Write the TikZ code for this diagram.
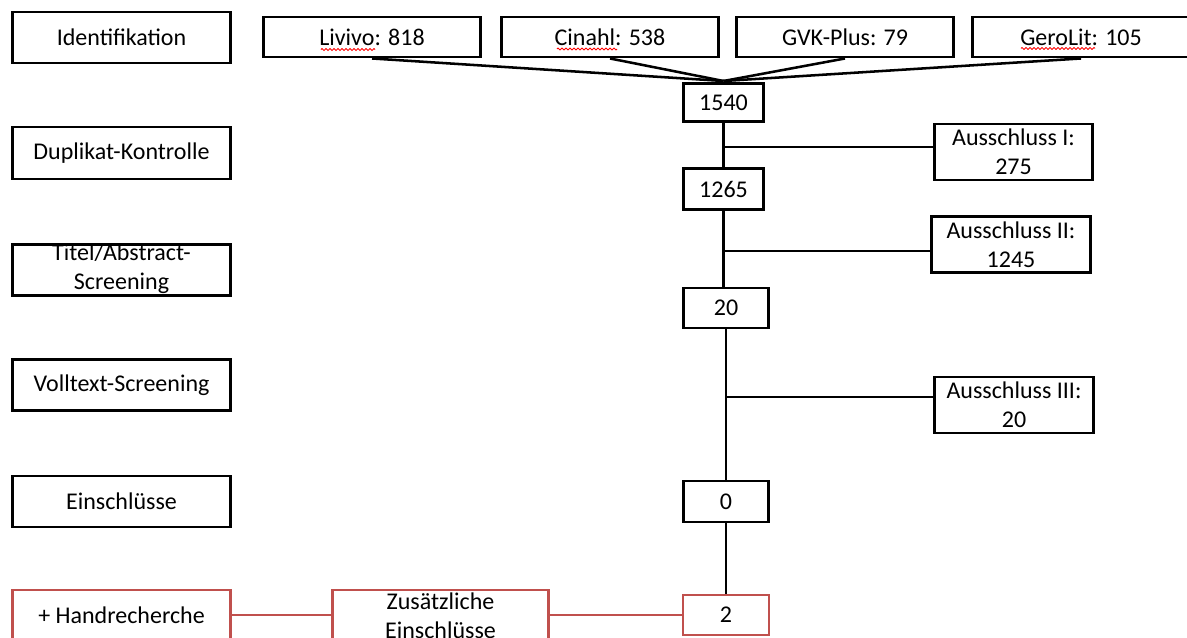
\documentclass[tikz,border=0pt]{standalone}
\usepackage{fontspec}
\setmainfont{Carlito}
\usetikzlibrary{decorations.pathmorphing}
\definecolor{boxred}{RGB}{192,80,77}
\newcommand\boxfont{\fontsize{18}{22}\selectfont}
\tikzset{
  box/.style={draw=black, line width=2.2pt, fill=white, inner sep=0pt, align=center,
    font=\boxfont},
  redbox/.style={box, draw=boxred, line width=1.8pt},
  sz/.style 2 args={minimum width=#1*0.75pt, minimum height=#2*0.75pt},
  txt/.style={inner sep=0pt, align=center, font=\boxfont},
  conn/.style={draw=black, line width=1.9pt},
  redconn/.style={draw=boxred, line width=1.6pt},
  spell/.style={draw=red, line width=0.6pt, line join=round, decorate,
    decoration={zigzag, segment length=3pt, amplitude=0.8pt}},
}
\begin{document}
\begin{tikzpicture}[x=0.75pt, y=-0.75pt]
\useasboundingbox (0,0) rectangle (1187,637);
\clip (0,0) rectangle (1187,637);
\fill[white] (0,0) rectangle (1187,637);

% left column
\node[box, sz={218}{51}] (ident) at (121.5,37.5) {Identifikation};
\node[box, sz={218}{52}] (dup) at (121.5,153) {Duplikat-Kontrolle};
\node[box, sz={218}{51}] (tas) at (121.5,270) {};
\node[txt] (tastext) at (121.5,269) {Titel/Abstract-\\Screening};
\node[box, sz={218}{51}] (voll) at (121.5,385) {Volltext-Screening};
\node[box, sz={218}{51}] (ein) at (121.5,501.5) {Einschlüsse};
\node[redbox, sz={218}{50}] (hand) at (121.5,615) {+ Handrecherche};

% sources
\node[box, sz={217}{40}] (liv) at (372,37) {Livivo: 818};
\node[box, sz={217}{40}] (cin) at (610,37) {Cinahl: 538};
\node[box, sz={217}{40}] (gvk) at (845,37) {GVK-Plus: 79};
\node[box, sz={217}{40}] (gero) at (1081,37) {GeroLit: 105};
% spell-check marks
\draw[spell] ([xshift=-38.25pt, yshift=-9.4pt]liv.center) -- ([xshift=2.25pt, yshift=-9.4pt]liv.center);
\draw[spell] ([xshift=-39.75pt, yshift=-9pt]cin.center) -- ([xshift=5.25pt, yshift=-9pt]cin.center);
\draw[spell] ([xshift=-45pt, yshift=-8.6pt]gero.center) -- ([xshift=10.5pt, yshift=-8.6pt]gero.center);

% numbers
\node[box, sz={80}{38}] (n1540) at (723.5,102.5) {1540};
\node[box, sz={80}{41}] (n1265) at (723.5,189) {1265};
\node[box, sz={85}{40}] (n20) at (726,308) {20};
\node[box, sz={85}{41}] (n0) at (726,501.5) {0};
\node[redbox, sz={86}{40}] (n2) at (726,615) {2};

% exclusions
\node[box, sz={158}{56}] (a1) at (1013.5,152) {Ausschluss I:\\275};
\node[box, sz={159}{56}] (a2) at (1011,244.5) {Ausschluss II:\\1245};
\node[box, sz={159}{56}] (a3) at (1014,405) {Ausschluss III:\\20};

\node[redbox, sz={216}{50}] (zus) at (440.5,615) {};
\node[txt] (zustext) at (440.5,616) {Zusätzliche\\Einschlüsse};

% connectors
\coordinate (top) at (723.5,81);
\foreach \s in {liv,cin,gvk,gero} \draw[conn] (\s.south) -- (top);

\draw[conn] (n1540.south) -- (n1265.north);
\coordinate (b1) at (723.5,147);
\draw[conn] (b1) -- (b1 -| a1.west);

\draw[conn] (n1265.south) -- (n1265.south |- n20.north);
\coordinate (b2) at (723.5,251);
\draw[conn] (b2) -- (b2 -| a2.west);

\draw[conn] (n20.south) -- (n0.north);
\coordinate (b3) at (726,397);
\draw[conn] (b3) -- (b3 -| a3.west);

\draw[conn] (n0.south) -- (n2.north);

\draw[redconn] (hand.east) -- (zus.west);
\draw[redconn] (zus.east) -- (n2.west);
\end{tikzpicture}
\end{document}
